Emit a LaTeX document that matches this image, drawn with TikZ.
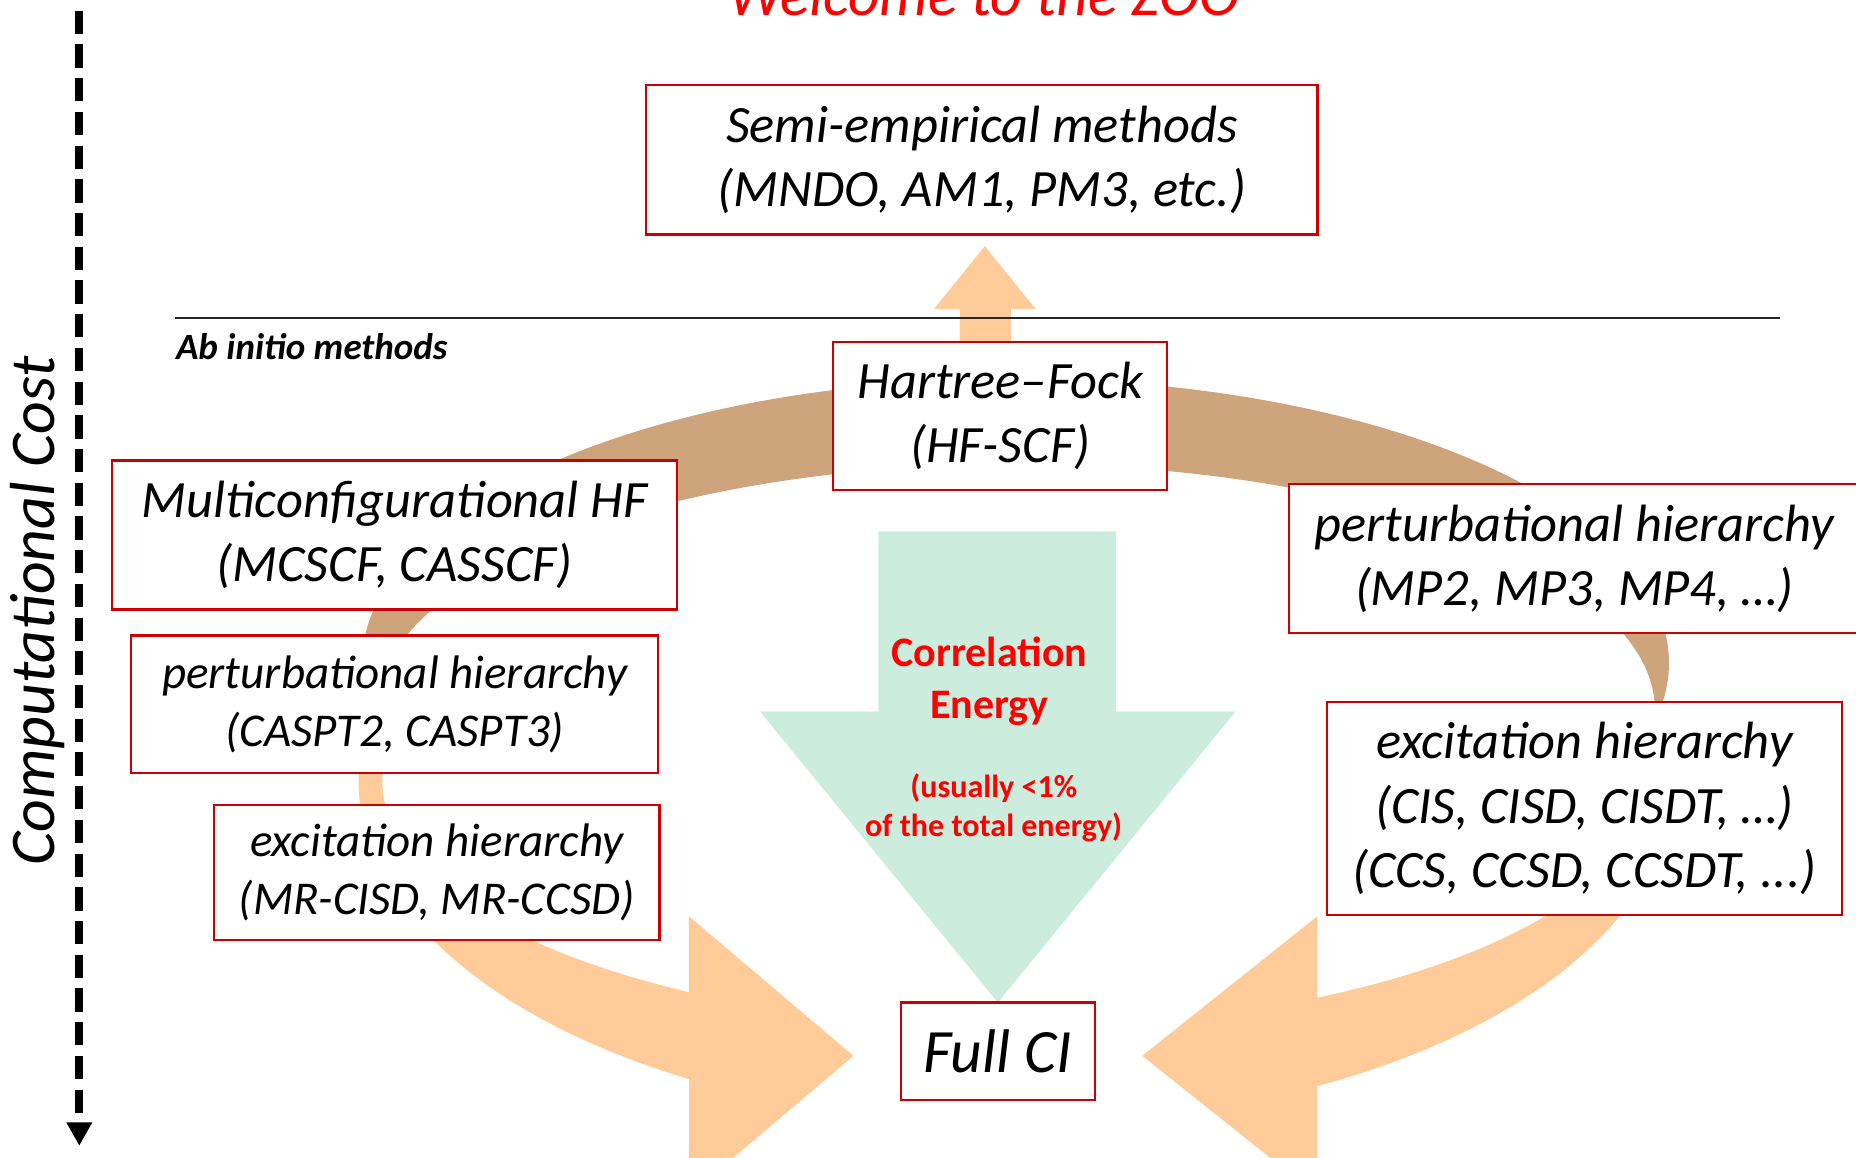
\documentclass[tikz,border=0pt]{standalone}
\usepackage{fontspec}
\setmainfont{Carlito}
\usepackage{tikz}
\usetikzlibrary{arrows.meta}
\definecolor{boxred}{RGB}{204,0,0}
\definecolor{zoored}{RGB}{255,0,0}
\definecolor{bandbrown}{RGB}{205,164,124}
\definecolor{bandpeach}{RGB}{255,204,153}
\definecolor{mint}{RGB}{204,237,222}
\tikzstyle{method}=[draw=boxred, line width=0.55pt, fill=white, inner sep=0pt, align=center, font=\itshape\fontsize{12.6}{15.4}\selectfont]
\tikzstyle{methodsmall}=[method, font=\itshape\fontsize{11.3}{13.8}\selectfont]
\tikzstyle{methodbig}=[method, font=\itshape\fontsize{14.8}{18}\selectfont]
\tikzstyle{title}=[text=zoored, inner sep=0pt, font=\itshape\fontsize{14.7}{18}\selectfont]
\tikzstyle{corr}=[text=zoored, inner sep=0pt, align=center, font=\bfseries\fontsize{10.1}{12.3}\selectfont]
\tikzstyle{corrnote}=[text=zoored, inner sep=0pt, align=center, font=\bfseries\fontsize{7.7}{9.4}\selectfont]
\tikzstyle{abinitio}=[inner sep=0pt, font=\bfseries\itshape\fontsize{8.9}{11}\selectfont]
\tikzstyle{costlabel}=[inner sep=0pt, rotate=90, font=\itshape\fontsize{15.3}{18}\selectfont]
\tikzstyle{costarrow}=[line width=1.85pt, dash pattern=on 5.6pt off 2.5pt, -{Triangle[length=5.6pt,width=5.8pt]}]
\tikzstyle{divider}=[line width=0.45pt, black!85]

\begin{document}
\begin{tikzpicture}[x=0.01cm, y=-0.01cm]
	\useasboundingbox (0,0) rectangle (1568,978);
	\clip (0,0) rectangle (1568,978);
	\begin{scope}
		\fill[bandbrown] (858,560) ++(170:552 and 240) arc[start angle=170, end angle=370, x radius=552, y radius=240]
			-- ([shift={(370:540 and 208)}]858,600) arc[start angle=370, end angle=170, x radius=540, y radius=208] -- cycle;
		\fill[bandpeach] (858,660) ++(188:555 and 290) arc[start angle=188, end angle=119.8, x radius=555, y radius=290]
			-- (582,1010) -- (721,892) -- (582,774)
			-- ([shift={(121.06:535 and 208)}]858,660) arc[start angle=121.06, end angle=188, x radius=535, y radius=208] -- cycle;
		\fill[bandpeach] (858,660) ++(-8:555 and 290) arc[start angle=-8, end angle=62.65, x radius=555, y radius=290]
			-- (1113,1010) -- (965,892) -- (1113,774)
			-- ([shift={(61.54:535 and 208)}]858,660) arc[start angle=61.54, end angle=-8, x radius=535, y radius=208] -- cycle;
		\fill[mint] (742,449) -- (943,449) -- (943,601) -- (1044,601) -- (843,847) -- (642,601) -- (742,601) -- cycle;
		\fill[bandpeach] (811,300) -- (811,261) -- (789,261) -- (832,208) -- (875,261) -- (854,261) -- (854,300) -- cycle;
	\end{scope}
	\begin{scope}
		\coordinate (ruleL) at (148,269);
		\coordinate (ruleR) at (1504,269);
		\coordinate (costtop) at (67,9);
		\coordinate (costbottom) at (67,968);
		\path [divider] (ruleL) edge (ruleR);
		\path [costarrow] (costtop) edge (costbottom);
	\end{scope}
	\begin{scope}
		\node (welcome) at (831,13)[title, anchor=base] {Welcome to the ZOO};
		\node (semi) at (829.5,135)[method, minimum width=5.67cm, minimum height=1.26cm] {Semi-empirical methods\\(MNDO, AM1, PM3, etc.)};
		\node (abinitio) at (148,304)[abinitio, anchor=base west] {Ab initio methods};
		\node (cost) at (46,516)[costlabel, anchor=base] {Computational Cost};
		\node (hf) at (845,351.5)[method, minimum width=2.82cm, minimum height=1.25cm] {Hartree--Fock\\(HF-SCF)};
		\node (mchf) at (333.5,452)[method, minimum width=4.77cm, minimum height=1.26cm] {Multiconfigurational HF\\(MCSCF, CASSCF)};
		\node (pertL) at (333.5,595)[methodsmall, minimum width=4.45cm, minimum height=1.16cm] {perturbational hierarchy\\(CASPT2, CASPT3)};
		\node (excL) at (369,737)[methodsmall, minimum width=3.76cm, minimum height=1.14cm] {excitation hierarchy\\(MR-CISD, MR-CCSD)};
		\node (pertR) at (1330,472)[method, minimum width=4.82cm, minimum height=1.26cm] {perturbational hierarchy\\(MP2, MP3, MP4, \dots)};
		\node (excR) at (1338.5,683)[method, minimum width=4.35cm, minimum height=1.80cm] {excitation hierarchy\\(CIS, CISD, CISDT, \dots)\\(CCS, CCSD, CCSDT, ...)};
		\node (fullci) at (843,888)[methodbig, minimum width=1.64cm, minimum height=0.82cm] {Full CI};
		\node (corr) at (836,575.5)[corr] {Correlation\\Energy};
		\node (corrnote) at (839.5,682.5)[corrnote] {(usually {<}1\%\\of the total energy)};
	\end{scope}
\end{tikzpicture}
\end{document}
